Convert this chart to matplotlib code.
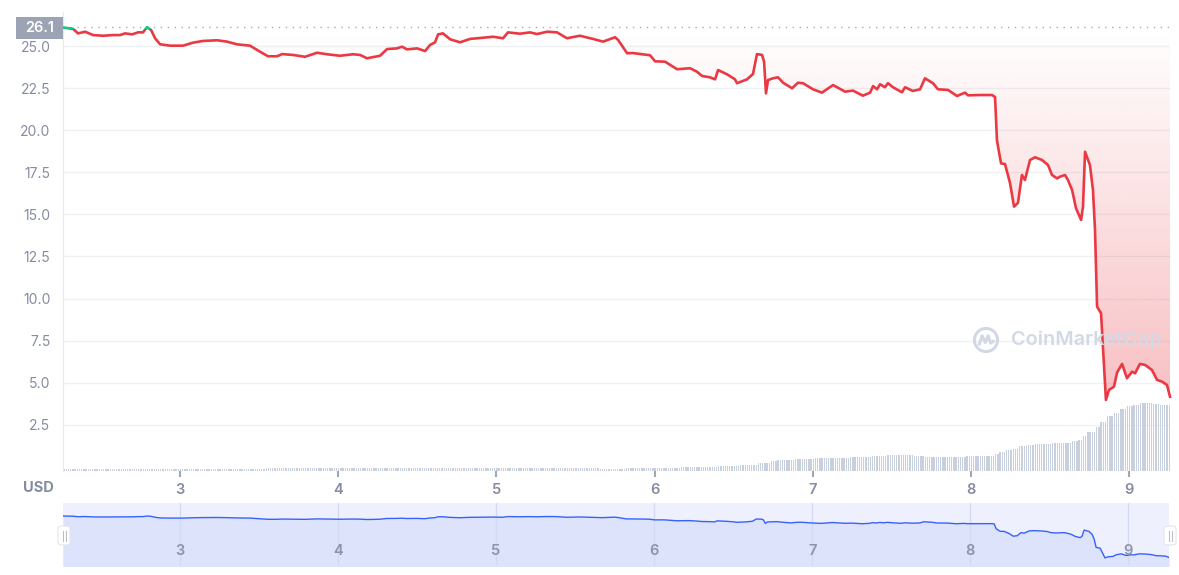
# -*- coding: utf-8 -*-
# Grafico de preco (estilo CoinMarketCap) com volume e navegador
import numpy as np
import matplotlib
matplotlib.use("Agg")
import matplotlib.pyplot as plt
from matplotlib.patches import Rectangle, FancyBboxPatch, Circle
from matplotlib.transforms import blended_transform_factory

plt.rcParams['font.family'] = ['Inter', 'DejaVu Sans']

# ---------------- dados ----------------
dias = [2.260, 2.324, 2.355, 2.400, 2.450, 2.513, 2.576, 2.621, 2.652, 2.697,
        2.734, 2.766, 2.791, 2.817, 2.842, 2.874, 2.937, 3.019, 3.082, 3.145,
        3.234, 3.297, 3.360, 3.442, 3.506, 3.556, 3.613, 3.645, 3.714, 3.790,
        3.866, 3.929, 4.011, 4.094, 4.138, 4.182, 4.264, 4.309, 4.372, 4.403,
        4.435, 4.498, 4.549, 4.580, 4.612, 4.631, 4.662, 4.707, 4.770, 4.833,
        4.915, 4.979, 5.042, 5.073, 5.149, 5.212, 5.257, 5.320, 5.383, 5.446,
        5.528, 5.611, 5.674, 5.750, 5.769, 5.826, 5.864, 5.971, 6.003, 6.066,
        6.142, 6.224, 6.268, 6.300, 6.350, 6.382, 6.401, 6.458, 6.508, 6.521,
        6.584, 6.622, 6.647, 6.679, 6.692, 6.704, 6.717, 6.748, 6.780, 6.812,
        6.869, 6.906, 6.938, 7.001, 7.058, 7.128, 7.204, 7.254, 7.317, 7.362,
        7.381, 7.406, 7.425, 7.456, 7.475, 7.507, 7.564, 7.583, 7.633, 7.678,
        7.709, 7.760, 7.791, 7.855, 7.912, 7.962, 7.981, 8.057, 8.133, 8.152,
        8.164, 8.171, 8.190, 8.215, 8.247, 8.272, 8.297, 8.322, 8.341, 8.373,
        8.405, 8.449, 8.487, 8.512, 8.544, 8.563, 8.594, 8.613, 8.639, 8.664,
        8.696, 8.708, 8.721, 8.752, 8.771, 8.784, 8.797, 8.822, 8.834, 8.853,
        8.872, 8.904, 8.923, 8.955, 8.986, 9.018, 9.037, 9.068, 9.100, 9.144,
        9.176, 9.207, 9.239, 9.258]

precos = [26.10, 26.02, 25.75, 25.85, 25.65, 25.61, 25.65, 25.65, 25.75, 25.69,
          25.81, 25.81, 26.12, 25.95, 25.46, 25.10, 25.02, 25.02, 25.20, 25.30,
          25.34, 25.26, 25.10, 25.02, 24.66, 24.39, 24.39, 24.52, 24.47, 24.36,
          24.60, 24.51, 24.42, 24.51, 24.47, 24.27, 24.42, 24.82, 24.86, 24.96,
          24.80, 24.86, 24.70, 25.06, 25.22, 25.69, 25.75, 25.40, 25.22, 25.42,
          25.49, 25.55, 25.46, 25.81, 25.73, 25.81, 25.71, 25.85, 25.81, 25.46,
          25.61, 25.42, 25.26, 25.52, 25.36, 24.57, 24.58, 24.45, 24.09, 24.07,
          23.62, 23.68, 23.47, 23.22, 23.14, 23.02, 23.57, 23.32, 23.02, 22.79,
          23.02, 23.34, 24.52, 24.47, 24.07, 22.19, 22.98, 23.08, 23.14, 22.82,
          22.49, 22.82, 22.79, 22.43, 22.23, 22.68, 22.29, 22.35, 22.05, 22.23,
          22.62, 22.43, 22.73, 22.55, 22.79, 22.55, 22.25, 22.55, 22.33, 22.43,
          23.08, 22.79, 22.43, 22.39, 22.03, 22.23, 22.07, 22.09, 22.09, 21.97,
          19.42, 19.02, 18.03, 17.99, 16.85, 15.46, 15.69, 17.34, 17.04, 18.23,
          18.39, 18.23, 17.93, 17.34, 17.14, 17.24, 17.34, 17.04, 16.45, 15.36,
          14.67, 15.46, 18.72, 17.93, 16.45, 14.07, 9.52, 9.13, 7.14, 3.98,
          4.57, 4.77, 5.60, 6.12, 5.27, 5.66, 5.56, 6.12, 6.06, 5.76,
          5.17, 5.07, 4.87, 4.17]

preco_abertura = 26.1

# volume em barras de 20 minutos: nivel e quantidade de barras em cada nivel
vol_niveis = [2, 3, 2, 3, 4, 5, 6, 8, 10, 11, 12, 13, 14, 15, 16, 15, 14, 15, 15, 17,
              19, 21, 22, 25, 26, 27, 28, 30, 31, 35, 39, 44, 49, 55, 58, 62, 65, 66, 68, 67,
              66]
vol_qtd = [92, 152, 12, 25, 17, 10, 8, 6, 3, 8, 9, 16, 10, 7, 12, 5, 19, 6, 7, 2,
           3, 3, 3, 4, 3, 8, 9, 3, 2, 2, 4, 2, 3, 3, 3, 3, 3, 3, 6, 3,
           5]

dias_ticks = [3, 4, 5, 6, 7, 8, 9]
y_ticks = [2.5, 5.0, 7.5, 10.0, 12.5, 15.0, 17.5, 20.0, 22.5, 25.0]

# ---------------- cores ----------------
VERMELHO = '#ea3943'
VERDE = '#16c784'
CINZA_TXT = '#858ca2'
CINZA_GRADE = '#eff2f5'

W, H = 1179, 575


def caixa(x0, y0, x1, y1):
    """Converte pixels (origem no topo) para fracao da figura"""
    return [x0 / W, 1 - y1 / H, (x1 - x0) / W, (y1 - y0) / H]


fig = plt.figure(figsize=(W / 100, H / 100), dpi=100)

# ---------------- grafico principal ----------------
ax = fig.add_axes(caixa(63, 12, 1170, 471))
x0, x1 = dias[0], dias[-1]

for v in y_ticks:
    ax.axhline(v, color=CINZA_GRADE, lw=1, zorder=0)

# volume (desenhado em fracao do eixo)
vol = np.repeat(vol_niveis, vol_qtd)
passo = 1 / 72
t_vol = x0 + (np.arange(len(vol)) + 0.5) * passo
escala_vol = max(vol_niveis) * 6.75
trans_vol = blended_transform_factory(ax.transData, ax.transAxes)
ax.bar(t_vol, vol / escala_vol, width=passo * 0.6, bottom=0, color='#c8cfdd',
       linewidth=0, transform=trans_vol, zorder=1)

# area com gradiente entre a linha e o preco de abertura
area = ax.fill_between(dias, precos, preco_abertura, facecolor='none', edgecolor='none')
grad = np.zeros((256, 1, 4))
grad[:, 0, :3] = matplotlib.colors.to_rgb(VERMELHO)
grad[:, 0, 3] = np.linspace(0.32, 0.0, 256)
im = ax.imshow(grad, extent=[x0, x1, min(precos), preco_abertura], origin='lower',
               aspect='auto', zorder=2, interpolation='bilinear')
im.set_clip_path(area.get_paths()[0], transform=ax.transData)

# linha de abertura pontilhada
ax.axhline(preco_abertura, color='#a3a9b8', lw=1, ls=(0, (1, 4)), zorder=3)

# linha de preco: vermelha abaixo da abertura, verde acima
linha_v, = ax.plot(dias, precos, color=VERMELHO, lw=1.9, zorder=4, solid_joinstyle='round')
linha_v.set_clip_path(Rectangle((0, -10), 20, 36.0, transform=ax.transData))
linha_g, = ax.plot(dias, precos, color=VERDE, lw=1.9, zorder=5, solid_joinstyle='round')
linha_g.set_clip_path(Rectangle((0, 26.0), 20, 10, transform=ax.transData))

ax.set_xlim(x0, x1)
ax.set_ylim(-0.24, 27.02)
ax.set_yticks(y_ticks)
ax.set_yticklabels([f'{v:.1f}' for v in y_ticks])
ax.set_xticks(dias_ticks)
ax.set_xticklabels([str(d) for d in dias_ticks])
ax.tick_params(axis='y', length=0, pad=9, labelsize=10, labelcolor=CINZA_TXT)
ax.tick_params(axis='x', length=4, width=1.5, color='#a0a6b5', pad=5,
               labelsize=10.5, labelcolor=CINZA_TXT)
for lab in ax.get_xticklabels():
    lab.set_fontweight('semibold')
for lado in ['top', 'right', 'bottom']:
    ax.spines[lado].set_visible(False)
ax.spines['left'].set_color('#e6e9ee')

# marca d'agua
fig.text(1011 / W, 1 - 340 / H, 'CoinMarketCap', color='#d3d9e4', fontsize=14.3,
         fontweight='semibold', ha='left', va='center')
ax_logo = fig.add_axes(caixa(972, 326, 1000, 354))
ax_logo.set_xlim(-1.15, 1.15)
ax_logo.set_ylim(-1.15, 1.15)
ax_logo.set_aspect('equal')
ax_logo.axis('off')
ax_logo.add_patch(Circle((0, 0), 0.95, fill=False, ec='#d3d9e4', lw=2.2))
ax_logo.plot([-0.55, -0.32, -0.05, 0.18, 0.38, 0.62], [-0.35, 0.35, -0.2, 0.35, -0.25, -0.1],
             color='#d3d9e4', lw=2.2, solid_capstyle='round', solid_joinstyle='round')

# etiqueta do preco de abertura
fig.add_artist(Rectangle((16 / W, 1 - 39 / H), 47 / W, 22 / H, transform=fig.transFigure,
                         facecolor='#9ca3b4', edgecolor='none'))
fig.text(39.5 / W, 1 - 28 / H, '26.1', color='white', fontsize=10.5,
         fontweight='semibold', ha='center', va='center')

fig.text(38 / W, 1 - 488 / H, 'USD', color=CINZA_TXT, fontsize=10.5,
         fontweight='bold', ha='center', va='center')

# ---------------- navegador ----------------
ax_nav = fig.add_axes(caixa(63, 503, 1169, 566))
ax_nav.set_facecolor('#eef1fd')
ax_nav.fill_between(dias, precos, -5, color='#dce3fb', lw=0, zorder=1)
ax_nav.plot(dias, precos, color='#3861fb', lw=1, zorder=3)
for d in dias_ticks:
    ax_nav.axvline(d, color='#d3daf5', lw=1, zorder=2)
    ax_nav.text(d, 0.24, str(d), transform=blended_transform_factory(ax_nav.transData, ax_nav.transAxes),
                color='#8b93a8', fontsize=10.5, fontweight='semibold', ha='center', va='center', zorder=4)
ax_nav.set_xlim(x0, x1)
ax_nav.set_ylim(-0.3, 33)
ax_nav.set_xticks([])
ax_nav.set_yticks([])
for lado in ax_nav.spines:
    ax_nav.spines[lado].set_visible(False)

# alcas do navegador
for xc in [64, 1170]:
    fig.add_artist(FancyBboxPatch(((xc - 6) / W, 1 - 545 / H), 12 / W, 19 / H,
                                  boxstyle='round,pad=0,rounding_size=0.004',
                                  transform=fig.transFigure, facecolor='white',
                                  edgecolor='#e2e5ec', lw=0.8, zorder=5))
    for dx in (-1.5, 1.5):
        fig.add_artist(plt.Line2D([(xc + dx) / W] * 2, [1 - 541 / H, 1 - 531 / H],
                                  transform=fig.transFigure, color='#b7bdca', lw=0.8, zorder=6))

fig.savefig('out.png', dpi=100)
